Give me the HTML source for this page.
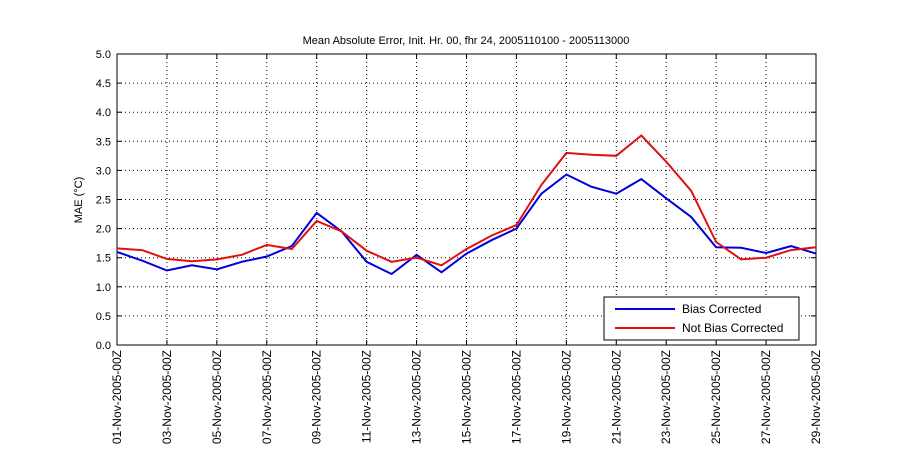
<!DOCTYPE html>
<html><head><meta charset="utf-8"><style>
body{margin:0;background:#fff;width:900px;height:450px;overflow:hidden}
text{font-family:"Liberation Sans",sans-serif;font-size:11px;fill:#000}
.xl{font-size:12px}
.lg{font-size:12px}
</style></head><body>
<svg id="s" width="900" height="450" xmlns="http://www.w3.org/2000/svg">
<rect width="900" height="450" fill="#fff"/>
<g id="grid"></g>
<rect x="117" y="54" width="699" height="291" fill="none" stroke="#000" stroke-width="1"/>
<polyline id="blue" fill="none" stroke="#0000dd" stroke-width="2"/>
<polyline id="red" fill="none" stroke="#e01010" stroke-width="2"/>
<text x="466" y="44" text-anchor="middle">Mean Absolute Error, Init. Hr. 00, fhr 24, 2005110100 - 2005113000</text>
<text transform="translate(82,200) rotate(-90)" text-anchor="middle">MAE (°C)</text>
<g id="lab"></g>
<rect x="604" y="297" width="195" height="43" fill="#fff" stroke="#000"/>
<line x1="615" y1="309" x2="675" y2="309" stroke="#0000dd" stroke-width="2"/>
<line x1="615" y1="328" x2="675" y2="328" stroke="#e01010" stroke-width="2"/>
<text class="lg" x="682" y="313">Bias Corrected</text>
<text class="lg" x="682" y="332">Not Bias Corrected</text>
</svg>
<script>
var L=117,R=816,T=54,B=345,dx=(R-L)/28,sy=(B-T)/5;
var ns="http://www.w3.org/2000/svg",g=document.getElementById('grid'),lab=document.getElementById('lab');
function el(p,t,a){var e=document.createElementNS(ns,t);for(var k in a)e.setAttribute(k,a[k]);p.appendChild(e);return e;}
for(var i=0;i<=10;i++){var y=B-i*sy/2;
 if(i>0&&i<10)el(g,'line',{x1:L,x2:R,y1:y,y2:y,stroke:'#000','stroke-dasharray':'1,3','stroke-width':1});
 el(g,'line',{x1:L,x2:L+5,y1:y,y2:y,stroke:'#000'});el(g,'line',{x1:R-5,x2:R,y1:y,y2:y,stroke:'#000'});
 var t=el(lab,'text',{x:111,y:y+4,'text-anchor':'end'});t.textContent=(i/2).toFixed(1);}
for(var d=0;d<=28;d+=2){var x=L+d*dx;
 if(d>0&&d<28)el(g,'line',{x1:x,x2:x,y1:T,y2:B,stroke:'#000','stroke-dasharray':'1,3','stroke-width':1});
 el(g,'line',{x1:x,x2:x,y1:B,y2:B-5,stroke:'#000'});el(g,'line',{x1:x,x2:x,y1:T,y2:T+5,stroke:'#000'});
 var dd=('0'+(d+1)).slice(-2);
 var t=el(lab,'text',{'class':'xl',transform:'translate('+(x+4)+','+(B+5)+') rotate(-90)','text-anchor':'end'});t.textContent=dd+'-Nov-2005-00Z';}
var b=[1.60,1.45,1.28,1.37,1.30,1.43,1.52,1.70,2.27,1.95,1.43,1.22,1.55,1.25,1.57,1.80,2.00,2.60,2.93,2.72,2.60,2.85,2.52,2.20,1.68,1.67,1.58,1.70,1.57];
var r=[1.66,1.63,1.48,1.44,1.47,1.55,1.72,1.65,2.13,1.95,1.62,1.43,1.50,1.37,1.65,1.88,2.06,2.75,3.30,3.27,3.25,3.60,3.15,2.65,1.77,1.47,1.50,1.63,1.68];
function pts(a){return a.map(function(v,i){return (L+i*dx).toFixed(1)+','+(B-v*sy).toFixed(1)}).join(' ');}
document.getElementById('blue').setAttribute('points',pts(b));
document.getElementById('red').setAttribute('points',pts(r));
</script>
</body></html>
